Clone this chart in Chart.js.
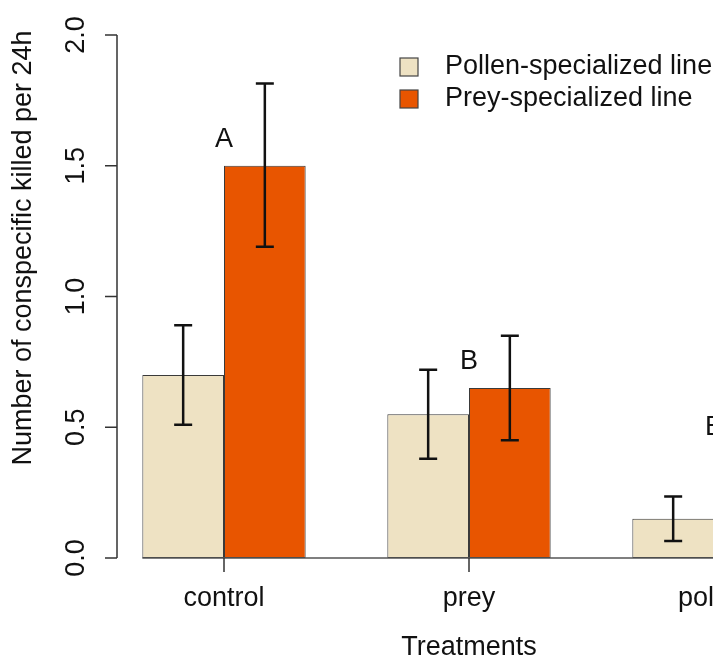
<!DOCTYPE html>
<html>
<head>
<meta charset="utf-8">
<script src="https://cdn.jsdelivr.net/npm/chart.js@4.4.1/dist/chart.umd.min.js"></script>
<style>
  html, body { margin: 0; padding: 0; background: #fff; overflow: hidden; }
  #wrap { width: 713px; height: 661px; overflow: hidden; }
</style>
</head>
<body>
<div id="wrap"><canvas id="killChart" width="840" height="661"></canvas></div>
<script>
// data
const categories = ['control', 'prey', 'pollen'];
const seriesNames = ['Pollen-specialized line', 'Prey-specialized line'];
const pollenLine = [0.70, 0.55, 0.15];
const preyLine = [1.50, 0.65, null];      // third bar is cut off in the reference
const pollenLow = [0.51, 0.38, 0.065];
const pollenHigh = [0.89, 0.72, 0.235];
const preyLow = [1.19, 0.45, null];
const preyHigh = [1.815, 0.85, null];
const letters = ['A', 'B', 'B'];
const letterY = [1.60, 0.75, 0.50];
const yTicks = [0, 0.5, 1, 1.5, 2];

const FONT = '27px "Liberation Sans", Arial, sans-serif';
const pollenColor = '#EEE2C3';
const preyColor = '#E85500';

// axes, error bars, letters and legend drawn the way R's barplot does
const rPlot = {
    id: 'rPlot',
    afterDatasetsDraw(chart) {
        const ctx = chart.ctx;
        const y = chart.scales.y;
        const x = chart.scales.x;
        const y0 = y.getPixelForValue(0);

        ctx.save();

        // baseline under the bars
        const firstBar = chart.getDatasetMeta(0).data[0];
        ctx.strokeStyle = '#555';
        ctx.lineWidth = 1.5;
        ctx.beginPath();
        ctx.moveTo(firstBar.x - firstBar.width / 2, y0);
        ctx.lineTo(chart.width, y0);
        ctx.stroke();

        // error bars
        const lows = [pollenLow, preyLow];
        const highs = [pollenHigh, preyHigh];
        ctx.strokeStyle = '#111';
        ctx.lineWidth = 2.5;
        [0, 1].forEach(d => {
            chart.getDatasetMeta(d).data.forEach((bar, i) => {
                if (lows[d][i] == null) return;
                const yl = y.getPixelForValue(lows[d][i]);
                const yh = y.getPixelForValue(highs[d][i]);
                ctx.beginPath();
                ctx.moveTo(bar.x, yl); ctx.lineTo(bar.x, yh);
                ctx.moveTo(bar.x - 9, yl); ctx.lineTo(bar.x + 9, yl);
                ctx.moveTo(bar.x - 9, yh); ctx.lineTo(bar.x + 9, yh);
                ctx.stroke();
            });
        });

        ctx.fillStyle = '#111';
        ctx.font = FONT;

        // significance letters
        ctx.textAlign = 'center';
        ctx.textBaseline = 'middle';
        letters.forEach((t, i) => {
            ctx.fillText(t, x.getPixelForValue(i), y.getPixelForValue(letterY[i]));
        });

        // x axis: ticks and category labels
        ctx.strokeStyle = '#333';
        ctx.lineWidth = 1.5;
        categories.forEach((c, i) => {
            const px = x.getPixelForValue(i);
            ctx.beginPath();
            ctx.moveTo(px, y0); ctx.lineTo(px, y0 + 14);
            ctx.stroke();
            ctx.fillText(c, px, 599);
        });
        ctx.fillText('Treatments', (117 + 821) / 2, 648);

        // y axis
        const ax = 117;
        ctx.beginPath();
        ctx.moveTo(ax, y.getPixelForValue(yTicks[0]));
        ctx.lineTo(ax, y.getPixelForValue(yTicks[yTicks.length - 1]));
        yTicks.forEach(v => {
            const py = y.getPixelForValue(v);
            ctx.moveTo(ax, py); ctx.lineTo(ax - 12, py);
        });
        ctx.stroke();
        yTicks.forEach(v => {
            ctx.save();
            ctx.translate(77, y.getPixelForValue(v));
            ctx.rotate(-Math.PI / 2);
            ctx.fillText(v.toFixed(1), 0, 0);
            ctx.restore();
        });
        ctx.save();
        ctx.translate(24, 248);
        ctx.rotate(-Math.PI / 2);
        ctx.fillText('Number of conspecific killed per 24h', 0, 0);
        ctx.restore();

        // legend
        ctx.textAlign = 'left';
        chart.data.datasets.forEach((ds, i) => {
            const ly = 67 + i * 32;
            ctx.fillStyle = ds.backgroundColor;
            ctx.fillRect(400, ly - 9, 18, 18);
            ctx.strokeStyle = '#444';
            ctx.lineWidth = 1.2;
            ctx.strokeRect(400, ly - 9, 18, 18);
            ctx.fillStyle = '#111';
            ctx.fillText(ds.label, 445, ly);
        });

        ctx.restore();
    }
};

const ctx = document.getElementById('killChart').getContext('2d');
new Chart(ctx, {
    type: 'bar',
    data: {
        labels: categories,
        datasets: [
            {
                label: seriesNames[0],
                data: pollenLine,
                backgroundColor: pollenColor,
                borderColor: '#3a3a3a',
                borderWidth: 1,
                borderSkipped: false
            },
            {
                label: seriesNames[1],
                data: preyLine,
                backgroundColor: preyColor,
                borderColor: '#3a3a3a',
                borderWidth: 1,
                borderSkipped: false
            }
        ]
    },
    options: {
        responsive: false,
        animation: false,
        devicePixelRatio: 1,
        layout: {
            padding: { left: 101.5, right: 3.5, top: 35, bottom: 103 }
        },
        datasets: {
            bar: { categoryPercentage: 2 / 3, barPercentage: 1 }
        },
        plugins: {
            legend: { display: false },
            tooltip: { enabled: false }
        },
        scales: {
            x: { display: false, offset: true },
            y: { display: false, min: 0, max: 2 }
        }
    },
    plugins: [rPlot]
});
</script>
</body>
</html>
